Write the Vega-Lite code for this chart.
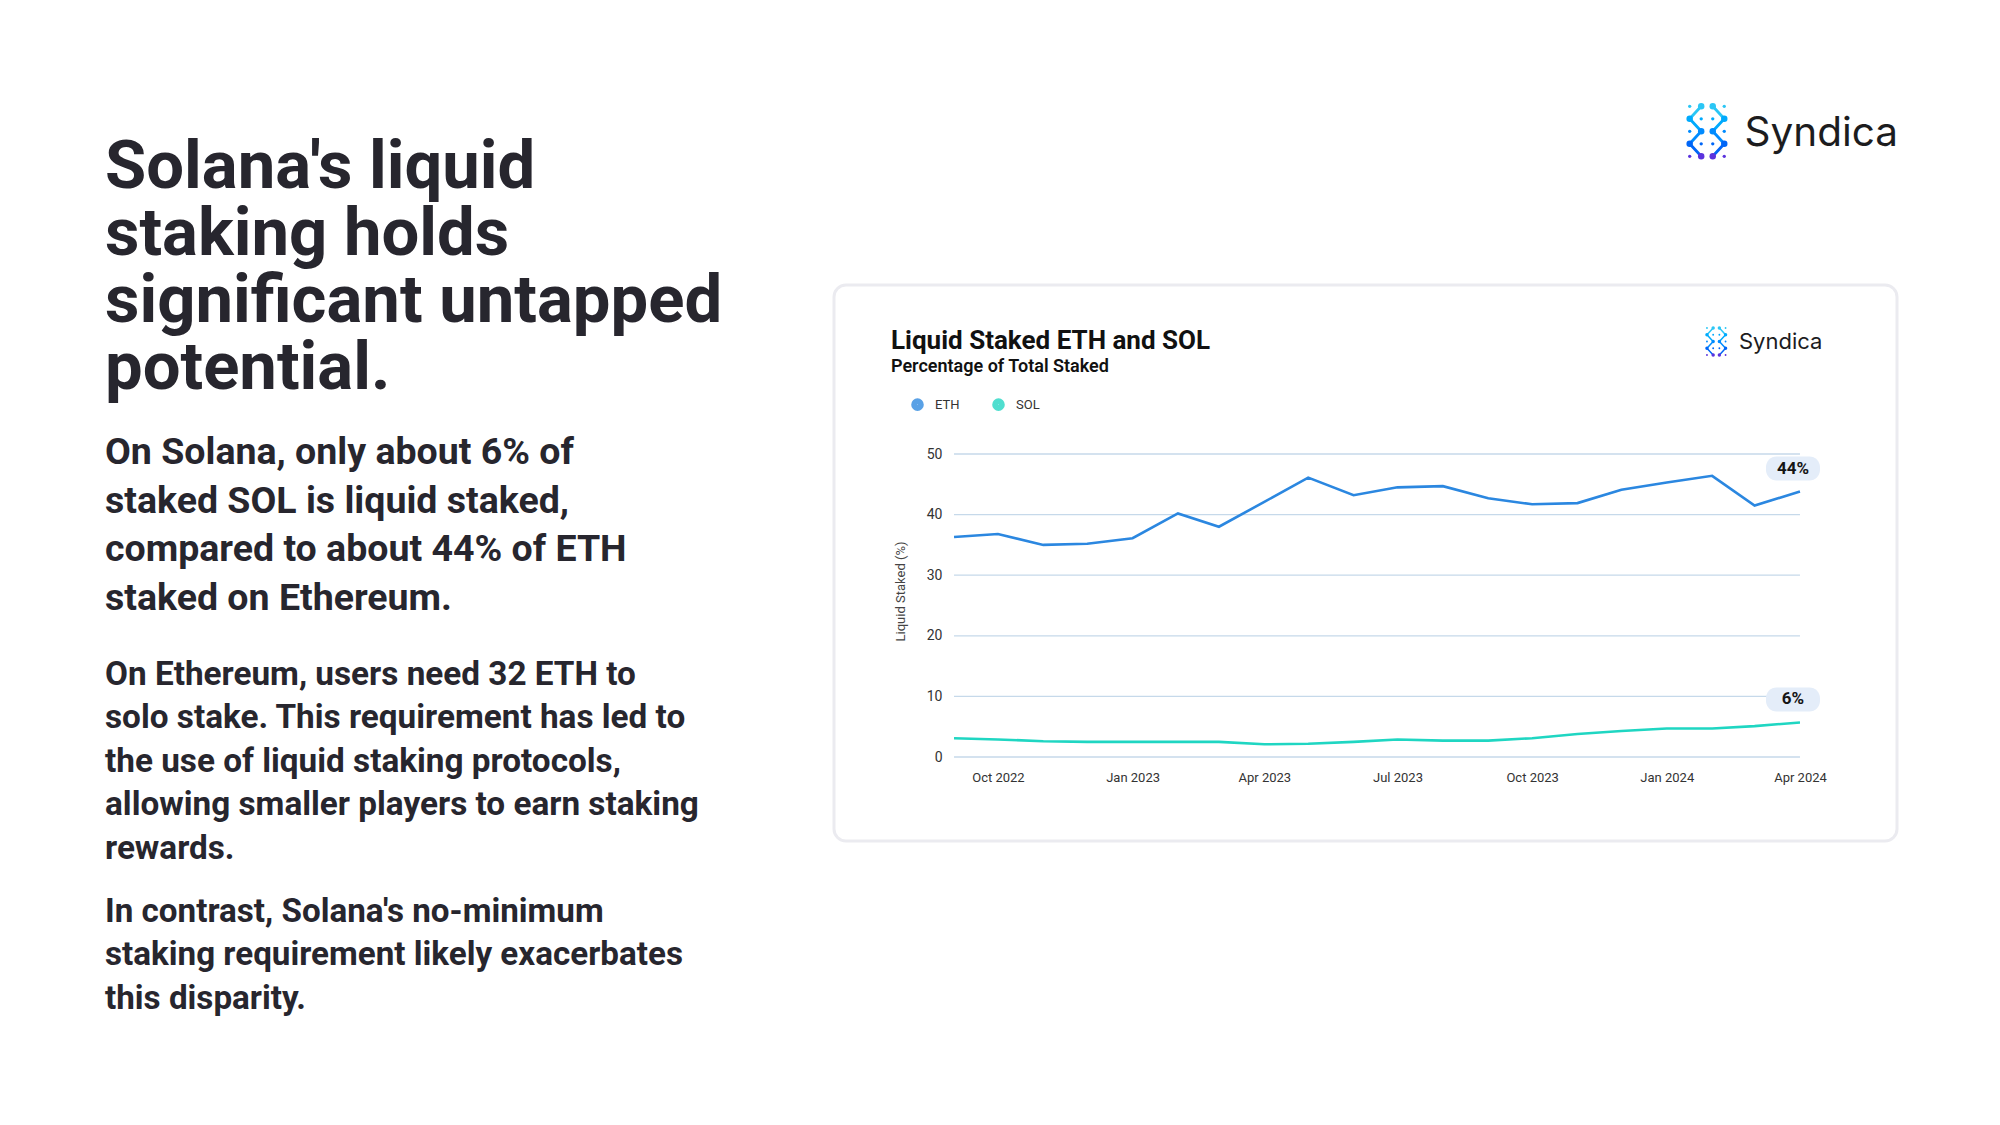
{
  "$schema": "https://vega.github.io/schema/vega-lite/v6.json",
  "background": "white",
  "padding": {"left": 105, "top": 0, "right": 0, "bottom": 0},
  "config": {"view": {"stroke": null}, "font": "Roboto"},
  "datasets": {
    "copy": [
      {"block": "headline", "text": "Solana's liquid\nstaking holds\nsignificant untapped\npotential."},
      {"block": "p1", "text": "On Solana, only about 6% of\nstaked SOL is liquid staked,\ncompared to about 44% of ETH\nstaked on Ethereum."},
      {"block": "p2", "text": "On Ethereum, users need 32 ETH to\nsolo stake. This requirement has led to\nthe use of liquid staking protocols,\nallowing smaller players to earn staking\nrewards."},
      {"block": "p3", "text": "In contrast, Solana's no-minimum\nstaking requirement likely exacerbates\nthis disparity."}
    ],
    "series": [
      {"series": "ETH", "date": "2022-09-01", "value": 36.3},
      {"series": "ETH", "date": "2022-10-01", "value": 36.8},
      {"series": "ETH", "date": "2022-11-01", "value": 35.0},
      {"series": "ETH", "date": "2022-12-01", "value": 35.2},
      {"series": "ETH", "date": "2023-01-01", "value": 36.1},
      {"series": "ETH", "date": "2023-02-01", "value": 40.2},
      {"series": "ETH", "date": "2023-03-01", "value": 38.0},
      {"series": "ETH", "date": "2023-04-01", "value": 42.1},
      {"series": "ETH", "date": "2023-05-01", "value": 46.1},
      {"series": "ETH", "date": "2023-06-01", "value": 43.2},
      {"series": "ETH", "date": "2023-07-01", "value": 44.5},
      {"series": "ETH", "date": "2023-08-01", "value": 44.7},
      {"series": "ETH", "date": "2023-09-01", "value": 42.7},
      {"series": "ETH", "date": "2023-10-01", "value": 41.7},
      {"series": "ETH", "date": "2023-11-01", "value": 41.9},
      {"series": "ETH", "date": "2023-12-01", "value": 44.1},
      {"series": "ETH", "date": "2024-01-01", "value": 45.3},
      {"series": "ETH", "date": "2024-02-01", "value": 46.4},
      {"series": "ETH", "date": "2024-03-01", "value": 41.5},
      {"series": "ETH", "date": "2024-04-01", "value": 43.8, "label": "44%"},
      {"series": "SOL", "date": "2022-09-01", "value": 3.1},
      {"series": "SOL", "date": "2022-10-01", "value": 2.9},
      {"series": "SOL", "date": "2022-11-01", "value": 2.6},
      {"series": "SOL", "date": "2022-12-01", "value": 2.5},
      {"series": "SOL", "date": "2023-01-01", "value": 2.5},
      {"series": "SOL", "date": "2023-02-01", "value": 2.5},
      {"series": "SOL", "date": "2023-03-01", "value": 2.5},
      {"series": "SOL", "date": "2023-04-01", "value": 2.1},
      {"series": "SOL", "date": "2023-05-01", "value": 2.2},
      {"series": "SOL", "date": "2023-06-01", "value": 2.5},
      {"series": "SOL", "date": "2023-07-01", "value": 2.9},
      {"series": "SOL", "date": "2023-08-01", "value": 2.7},
      {"series": "SOL", "date": "2023-09-01", "value": 2.7},
      {"series": "SOL", "date": "2023-10-01", "value": 3.1},
      {"series": "SOL", "date": "2023-11-01", "value": 3.8},
      {"series": "SOL", "date": "2023-12-01", "value": 4.3},
      {"series": "SOL", "date": "2024-01-01", "value": 4.7},
      {"series": "SOL", "date": "2024-02-01", "value": 4.7},
      {"series": "SOL", "date": "2024-03-01", "value": 5.1},
      {"series": "SOL", "date": "2024-04-01", "value": 5.7, "label": "6%"}
    ],
    "grid": [{"v": 0}, {"v": 10}, {"v": 20}, {"v": 30}, {"v": 40}, {"v": 50}],
    "iconDots": [
      {"c": 0, "r": 0, "kind": "dot"}, {"c": 1, "r": 0, "kind": "node"}, {"c": 2, "r": 0, "kind": "node"}, {"c": 3, "r": 0, "kind": "dot"},
      {"c": 0, "r": 1, "kind": "node"}, {"c": 1, "r": 1, "kind": "dot"}, {"c": 2, "r": 1, "kind": "dot"}, {"c": 3, "r": 1, "kind": "node"},
      {"c": 0, "r": 2, "kind": "dot"}, {"c": 1, "r": 2, "kind": "node"}, {"c": 2, "r": 2, "kind": "node"}, {"c": 3, "r": 2, "kind": "dot"},
      {"c": 0, "r": 3, "kind": "node"}, {"c": 1, "r": 3, "kind": "dot"}, {"c": 2, "r": 3, "kind": "dot"}, {"c": 3, "r": 3, "kind": "node"},
      {"c": 0, "r": 4, "kind": "dot"}, {"c": 1, "r": 4, "kind": "node"}, {"c": 2, "r": 4, "kind": "node"}, {"c": 3, "r": 4, "kind": "dot"}
    ],
    "iconLinks": [
      {"c1": 1, "r1": 0, "c2": 0, "r2": 1},
      {"c1": 2, "r1": 0, "c2": 3, "r2": 1},
      {"c1": 0, "r1": 1, "c2": 1, "r2": 2},
      {"c1": 3, "r1": 1, "c2": 2, "r2": 2},
      {"c1": 1, "r1": 2, "c2": 0, "r2": 3},
      {"c1": 2, "r1": 2, "c2": 3, "r2": 3},
      {"c1": 0, "r1": 3, "c2": 1, "r2": 4},
      {"c1": 3, "r1": 3, "c2": 2, "r2": 4}
    ]
  },
  "spacing": 27,
  "hconcat": [
    {
      "width": 700,
      "height": 1125,
      "data": {"name": "copy"},
      "layer": [
        {
          "transform": [{"filter": "datum.block == 'headline'"}],
          "mark": {"type": "text", "align": "left", "baseline": "alphabetic", "lineBreak": "\n", "lineHeight": 66.7, "font": "Roboto", "fontSize": 67, "fontWeight": "bold", "fill": "#27262e"},
          "encoding": {
            "x": {"datum": 0, "type": "quantitative", "scale": {"domain": [0, 1]}, "axis": null},
            "y": {"datum": 0, "type": "quantitative", "scale": {"domain": [-2.826, 14.041], "reverse": true, "nice": false, "zero": false}, "axis": null},
            "text": {"field": "text"}
          }
        },
        {
          "transform": [{"filter": "datum.block == 'p1'"}],
          "mark": {"type": "text", "align": "left", "baseline": "alphabetic", "lineBreak": "\n", "lineHeight": 48.5, "font": "Roboto", "fontSize": 37.5, "fontWeight": "bold", "fill": "#27262e"},
          "encoding": {
            "x": {"datum": 0, "type": "quantitative", "scale": {"domain": [0, 1]}, "axis": null},
            "y": {"datum": 0, "type": "quantitative", "scale": {"domain": [-9.571, 13.625], "reverse": true, "nice": false, "zero": false}, "axis": null},
            "text": {"field": "text"}
          }
        },
        {
          "transform": [{"filter": "datum.block == 'p2'"}],
          "mark": {"type": "text", "align": "left", "baseline": "alphabetic", "lineBreak": "\n", "lineHeight": 43.4, "font": "Roboto", "fontSize": 33.3, "fontWeight": "bold", "fill": "#27262e"},
          "encoding": {
            "x": {"datum": 0, "type": "quantitative", "scale": {"domain": [0, 1]}, "axis": null},
            "y": {"datum": 0, "type": "quantitative", "scale": {"domain": [-15.783, 10.138], "reverse": true, "nice": false, "zero": false}, "axis": null},
            "text": {"field": "text"}
          }
        },
        {
          "transform": [{"filter": "datum.block == 'p3'"}],
          "mark": {"type": "text", "align": "left", "baseline": "alphabetic", "lineBreak": "\n", "lineHeight": 43.4, "font": "Roboto", "fontSize": 33.2, "fontWeight": "bold", "fill": "#27262e"},
          "encoding": {
            "x": {"datum": 0, "type": "quantitative", "scale": {"domain": [0, 1]}, "axis": null},
            "y": {"datum": 0, "type": "quantitative", "scale": {"domain": [-21.244, 4.677], "reverse": true, "nice": false, "zero": false}, "axis": null},
            "text": {"field": "text"}
          }
        }
      ],
      "resolve": {"scale": {"y": "independent"}}
    },
    {
      "spacing": 0,
      "vconcat": [
        {
          "width": 1063,
          "height": 283,
          "layer": [
            {
              "data": {"name": "iconLinks"},
              "mark": {"type": "rule", "strokeWidth": 2.8, "strokeCap": "round"},
              "encoding": {
                "x": {"field": "c1", "type": "quantitative", "scale": {"domain": [-74.21, 17.98], "nice": false, "zero": false}, "axis": null},
                "y": {"field": "r1", "type": "quantitative", "scale": {"domain": [-8.504, 14.136], "reverse": true, "nice": false, "zero": false}, "axis": null},
                "x2": {"field": "c2"},
                "y2": {"field": "r2"},
                "color": {"field": "r1", "type": "quantitative", "scale": {"domain": [0, 4], "range": ["#2bc6f5", "#5b33dd"]}, "legend": null}
              }
            },
            {
              "data": {"name": "iconDots"},
              "transform": [{"filter": "datum.kind == 'node'"}],
              "mark": {"type": "circle", "size": 42, "opacity": 1},
              "encoding": {
                "x": {"field": "c", "type": "quantitative"},
                "y": {"field": "r", "type": "quantitative"},
                "color": {"field": "r", "type": "quantitative", "legend": null}
              }
            },
            {
              "data": {"name": "iconDots"},
              "transform": [{"filter": "datum.kind == 'dot'"}],
              "mark": {"type": "circle", "size": 11, "opacity": 1},
              "encoding": {
                "x": {"field": "c", "type": "quantitative"},
                "y": {"field": "r", "type": "quantitative"},
                "color": {"field": "r", "type": "quantitative", "legend": null}
              }
            },
            {
              "data": {"values": [{"brand": "Syndica"}]},
              "mark": {"type": "text", "align": "left", "baseline": "alphabetic", "font": "Inter", "fontSize": 40.5, "fill": "#1c1c1e"},
              "encoding": {
                "x": {"datum": 4.75, "type": "quantitative"},
                "y": {"datum": 3.18, "type": "quantitative"},
                "text": {"field": "brand"}
              }
            }
          ]
        },
        {
          "width": 1063,
          "height": 556,
          "view": {"fill": "white", "stroke": "#ebebf0", "strokeWidth": 3, "cornerRadius": 12},
          "title": {
            "text": "Liquid Staked ETH and SOL",
            "subtitle": "Percentage of Total Staked",
            "anchor": "start",
            "frame": "group",
            "dx": 57,
            "offset": -91,
            "font": "Roboto",
            "fontSize": 26,
            "fontWeight": "bold",
            "color": "#111111",
            "subtitleFont": "Roboto",
            "subtitleFontSize": 18,
            "subtitleFontWeight": 600,
            "subtitleColor": "#111111",
            "subtitlePadding": 4
          },
          "layer": [
            {
              "layer": [
                {
                  "data": {"name": "grid"},
                  "mark": {"type": "rule", "stroke": "#c6d9ea", "strokeWidth": 1.3},
                  "encoding": {
                    "y": {
                      "field": "v", "type": "quantitative", "title": "Liquid Staked (%)",
                      "scale": {"domain": [-13.86, 77.89], "nice": false, "zero": false},
                      "axis": {
                        "values": [0, 10, 20, 30, 40, 50], "grid": false, "domain": false, "ticks": false,
                        "offset": -112, "labelPadding": 4, "labelFontSize": 14, "labelFont": "Roboto", "labelColor": "#333333",
                        "titleFont": "Roboto", "titleFontSize": 13, "titleFontWeight": "normal", "titleColor": "#444444",
                        "titleX": -46, "titleY": 306, "titleBaseline": "middle"
                      }
                    },
                    "x": {
                      "datum": {"year": 2022, "month": 9, "date": 1, "utc": true}, "type": "temporal", "title": null,
                      "scale": {"type": "utc", "domain": [{"year": 2022, "month": 6, "date": 11, "utc": true}, {"year": 2024, "month": 6, "date": 6, "hours": 7, "utc": true}]},
                      "axis": {
                        "values": [
                          {"year": 2022, "month": 10, "date": 1, "utc": true},
                          {"year": 2023, "month": 1, "date": 1, "utc": true},
                          {"year": 2023, "month": 4, "date": 1, "utc": true},
                          {"year": 2023, "month": 7, "date": 1, "utc": true},
                          {"year": 2023, "month": 10, "date": 1, "utc": true},
                          {"year": 2024, "month": 1, "date": 1, "utc": true},
                          {"year": 2024, "month": 4, "date": 1, "utc": true}
                        ],
                        "format": "%b %Y", "grid": false, "domain": false, "ticks": false,
                        "offset": -78, "labelPadding": 8, "labelFontSize": 13, "labelFont": "Roboto", "labelColor": "#333333",
                        "labelFlush": false, "labelOverlap": false
                      }
                    },
                    "x2": {"datum": {"year": 2024, "month": 4, "date": 1, "utc": true}}
                  }
                },
                {
                  "data": {"name": "series"},
                  "mark": {"type": "line", "strokeWidth": 2.6},
                  "encoding": {
                    "x": {"field": "date", "type": "temporal", "title": null},
                    "y": {"field": "value", "type": "quantitative", "title": "Liquid Staked (%)"},
                    "color": {
                      "field": "series", "type": "nominal",
                      "scale": {"domain": ["ETH", "SOL"], "range": ["#2b87e0", "#1fd6c2"]},
                      "legend": {
                        "title": null, "orient": "none", "legendX": 77, "legendY": 113, "direction": "horizontal",
                        "symbolType": "circle", "symbolSize": 36, "symbolStrokeWidth": 6.6, "symbolOpacity": 0.78,
                        "labelFontSize": 13, "labelFont": "Roboto", "labelColor": "#333333", "labelOffset": 11, "columnPadding": 22
                      }
                    }
                  }
                },
                {
                  "data": {"name": "series"},
                  "transform": [{"filter": "datum.label"}],
                  "mark": {
                    "type": "point", "filled": true, "fill": "#e4edf9", "opacity": 1, "strokeWidth": 0, "size": 3600,
                    "shape": "M-0.55,-0.4L0.55,-0.4A0.35,0.35,0,0,1,0.9,-0.05L0.9,0.05A0.35,0.35,0,0,1,0.55,0.4L-0.55,0.4A0.35,0.35,0,0,1,-0.9,0.05L-0.9,-0.05A0.35,0.35,0,0,1,-0.55,-0.4Z",
                    "xOffset": -7, "yOffset": -23
                  },
                  "encoding": {
                    "x": {"field": "date", "type": "temporal", "title": null},
                    "y": {"field": "value", "type": "quantitative", "title": "Liquid Staked (%)"}
                  }
                },
                {
                  "data": {"name": "series"},
                  "transform": [{"filter": "datum.label"}],
                  "mark": {"type": "text", "font": "Roboto", "fontSize": 17, "fontWeight": "bold", "fill": "#151515", "align": "center", "baseline": "middle", "dx": -7, "dy": -23},
                  "encoding": {
                    "x": {"field": "date", "type": "temporal", "title": null},
                    "y": {"field": "value", "type": "quantitative", "title": "Liquid Staked (%)"},
                    "text": {"field": "label"}
                  }
                }
              ]
            },
            {
              "layer": [
                {
                  "data": {"name": "iconLinks"},
                  "mark": {"type": "rule", "strokeWidth": 1.5, "strokeCap": "round"},
                  "encoding": {
                    "x": {"field": "c1", "type": "quantitative", "scale": {"domain": [-140.8, 30.65], "nice": false, "zero": false}, "axis": null},
                    "y": {"field": "r1", "type": "quantitative", "scale": {"domain": [-6.37, 76.0], "reverse": true, "nice": false, "zero": false}, "axis": null},
                    "x2": {"field": "c2"},
                    "y2": {"field": "r2"},
                    "color": {"field": "r1", "type": "quantitative", "scale": {"domain": [0, 4], "range": ["#2bc6f5", "#5b33dd"]}, "legend": null}
                  }
                },
                {
                  "data": {"name": "iconDots"},
                  "transform": [{"filter": "datum.kind == 'node'"}],
                  "mark": {"type": "circle", "size": 12, "opacity": 1},
                  "encoding": {
                    "x": {"field": "c", "type": "quantitative"},
                    "y": {"field": "r", "type": "quantitative"},
                    "color": {"field": "r", "type": "quantitative", "legend": null}
                  }
                },
                {
                  "data": {"name": "iconDots"},
                  "transform": [{"filter": "datum.kind == 'dot'"}],
                  "mark": {"type": "circle", "size": 3.5, "opacity": 1},
                  "encoding": {
                    "x": {"field": "c", "type": "quantitative"},
                    "y": {"field": "r", "type": "quantitative"},
                    "color": {"field": "r", "type": "quantitative", "legend": null}
                  }
                },
                {
                  "data": {"values": [{"brand": "Syndica"}]},
                  "mark": {"type": "text", "align": "left", "baseline": "alphabetic", "font": "Inter", "fontSize": 22, "fill": "#1c1c1e"},
                  "encoding": {
                    "x": {"datum": 5.16, "type": "quantitative"},
                    "y": {"datum": 3.11, "type": "quantitative"},
                    "text": {"field": "brand"}
                  }
                }
              ]
            }
          ],
          "resolve": {"scale": {"x": "independent", "y": "independent", "color": "independent"}}
        }
      ]
    }
  ]
}
